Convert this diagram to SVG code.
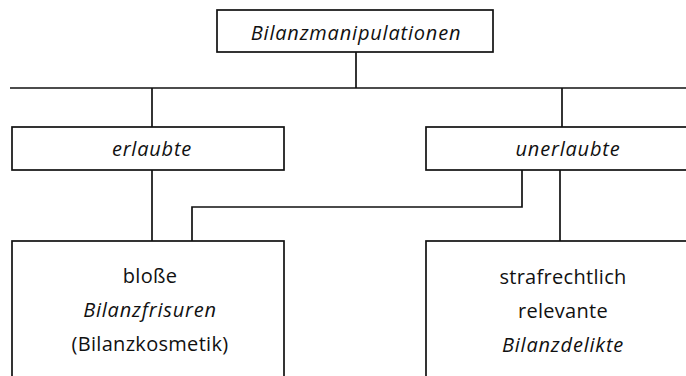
<svg xmlns="http://www.w3.org/2000/svg" width="686" height="376" viewBox="0 0 686 376">
<style>
.box{fill:#fff;stroke:#111;stroke-width:1.7}
.ln{fill:none;stroke:#111;stroke-width:1.7}
text{font-family:"Open Sans","Liberation Sans",sans-serif;font-size:20px;fill:#111;text-anchor:middle;letter-spacing:0.3px}
.it{font-style:italic;letter-spacing:0.8px}
</style>
<rect width="686" height="376" fill="#fff"/>
<g id="connectors">
<polyline class="ln" points="356,52 356,88"/>
<polyline class="ln" points="10,88 686,88"/>
<polyline class="ln" points="152,88 152,127"/>
<polyline class="ln" points="562,88 562,127"/>
<polyline class="ln" points="152,170 152,241"/>
<polyline class="ln" points="560,170 560,241"/>
<polyline class="ln" points="192,241 192,207 522,207 522,170"/>
</g>
<g id="n-bilanzmanipulationen">
<rect class="box" x="217" y="10" width="276" height="42"/>
<text class="it" x="356" y="40">Bilanzmanipulationen</text>
</g>
<g id="n-erlaubte">
<rect class="box" x="12" y="127" width="272" height="43"/>
<text class="it" x="152" y="156">erlaubte</text>
</g>
<g id="n-unerlaubte">
<rect class="box" x="426" y="127" width="270" height="43"/>
<text class="it" x="568" y="156">unerlaubte</text>
</g>
<g id="n-bilanzfrisuren">
<rect class="box" x="12" y="241" width="272" height="150"/>
<text x="150" y="283">bloße</text>
<text class="it" x="150" y="317">Bilanzfrisuren</text>
<text x="150" y="351">(Bilanzkosmetik)</text>
</g>
<g id="n-bilanzdelikte">
<rect class="box" x="426" y="241" width="270" height="150"/>
<text x="563" y="284">strafrechtlich</text>
<text x="563" y="318">relevante</text>
<text class="it" x="563" y="352">Bilanzdelikte</text>
</g>
</svg>
